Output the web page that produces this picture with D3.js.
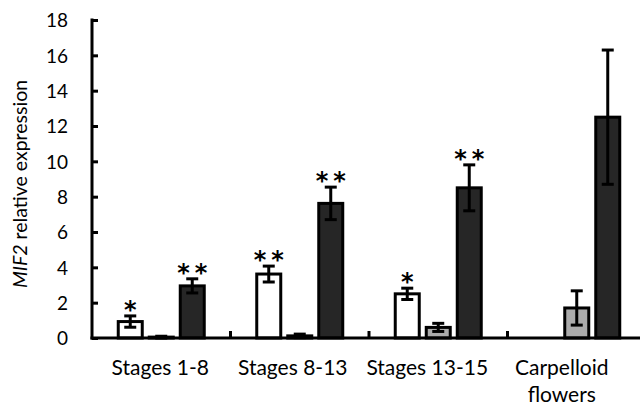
<!DOCTYPE html>
<html>
<head>
<meta charset="utf-8">
<script src="https://cdn.jsdelivr.net/npm/d3@7"></script>
<style>
  html, body { margin: 0; padding: 0; background: #fff; }
  svg { display: block; font-family: Carlito, Calibri, "Lato", sans-serif; }
</style>
</head>
<body>
<svg id="chart" width="640" height="410"></svg>
<script>
const categories = ["Stages 1-8", "Stages 8-13", "Stages 13-15", "Carpelloid flowers"];
const series = ["s1", "s2", "s3"];
const seriesColors = ["#ffffff", "#ababab", "#262626"];
const valuesS1 = [0.93, 3.62, 2.5, null];
const errorsS1 = [0.32, 0.45, 0.32, null];
const valuesS2 = [0.05, 0.12, 0.6, 1.7];
const errorsS2 = [0.05, 0.1, 0.23, 0.97];
const valuesS3 = [2.95, 7.62, 8.5, 12.5];
const errorsS3 = [0.4, 0.92, 1.3, 3.8];
const starsS1 = ["*", "**", "*", ""];
const starsS2 = ["", "", "", ""];
const starsS3 = ["**", "**", "**", ""];
const yTicks = [0, 2, 4, 6, 8, 10, 12, 14, 16, 18];

const allValues = [valuesS1, valuesS2, valuesS3];
const allErrors = [errorsS1, errorsS2, errorsS3];
const allStars = [starsS1, starsS2, starsS3];

const svg = d3.select("#chart");
const mLeft = 92, mTop = 20, mBottom = 338, catW = 138.5;

const y = d3.scaleLinear().domain([0, 18]).range([mBottom, mTop]);
const x = d3.scaleBand().domain(categories).range([mLeft, mLeft + catW * categories.length]).padding(0);
const xs = d3.scaleBand().domain(series).range([-46.5, 46.5]).padding(0);

const data = [];
categories.forEach((c, i) => {
  series.forEach((s, j) => {
    const v = allValues[j][i];
    if (v == null) return;
    data.push({ c, s, j, v, e: allErrors[j][i], star: allStars[j][i] });
  });
});

const barW = 24;
const cx = d => x(d.c) + x.bandwidth() / 2 + xs(d.s) + xs.bandwidth() / 2;

// bars
svg.append("g").selectAll("rect").data(data).join("rect")
  .attr("x", d => cx(d) - barW / 2)
  .attr("y", d => y(d.v))
  .attr("width", barW)
  .attr("height", d => y(0) - y(d.v))
  .attr("fill", d => seriesColors[d.j])
  .attr("stroke", "#000")
  .attr("stroke-width", 3);

// error bars
const eb = svg.append("g").attr("stroke", "#000").attr("stroke-width", 3);
data.forEach(d => {
  const c = cx(d);
  eb.append("line").attr("x1", c).attr("x2", c).attr("y1", y(d.v - d.e)).attr("y2", y(d.v + d.e));
  eb.append("line").attr("x1", c - 6).attr("x2", c + 6).attr("y1", y(d.v + d.e)).attr("y2", y(d.v + d.e));
  eb.append("line").attr("x1", c - 6).attr("x2", c + 6).attr("y1", y(d.v - d.e)).attr("y2", y(d.v - d.e));
});

// significance stars
const starLS = 5;
svg.append("g").selectAll("text").data(data.filter(d => d.star)).join("text")
  .attr("x", d => cx(d))
  .attr("dx", d => d.star.length > 1 ? starLS / 2 : 0)
  .attr("y", d => y(d.v + d.e) + 2)
  .attr("text-anchor", "middle")
  .attr("font-size", 24)
  .attr("font-weight", "bold")
  .attr("letter-spacing", d => d.star.length > 1 ? starLS : 0)
  .attr("font-family", "'DejaVu Sans', sans-serif")
  .text(d => d.star);

// y axis
const yAxis = d3.axisRight(y).tickValues(yTicks).tickSize(6).tickFormat(d3.format("d"));
const gy = svg.append("g").attr("transform", `translate(${mLeft},0)`).call(yAxis);
gy.select(".domain").remove();
gy.selectAll(".tick line").attr("stroke", "#000").attr("stroke-width", 3);
gy.selectAll(".tick text").attr("x", -24).attr("text-anchor", "end").attr("dy", "0.36em")
  .attr("font-size", 19).attr("fill", "#000").attr("font-family", "Lato, sans-serif");
svg.append("line").attr("x1", mLeft).attr("x2", mLeft).attr("y1", y(18) - 1.5).attr("y2", y(0) + 1.5)
  .attr("stroke", "#000").attr("stroke-width", 3);

// x axis
svg.append("line").attr("x1", mLeft - 1.5).attr("x2", 640).attr("y1", y(0)).attr("y2", y(0))
  .attr("stroke", "#000").attr("stroke-width", 3);
svg.append("g").selectAll("line").data(categories.slice(1)).join("line")
  .attr("x1", d => x(d)).attr("x2", d => x(d))
  .attr("y1", y(0)).attr("y2", y(0) - 7)
  .attr("stroke", "#000").attr("stroke-width", 3);

// x labels
const labelShift = [-1, -7, -11, -15];
const xl = svg.append("g").selectAll("text").data(categories).join("text")
  .attr("text-anchor", "middle")
  .attr("font-size", 21)
  .attr("font-family", "Lato, sans-serif")
  .attr("fill", "#000");
xl.each(function (d, i) {
  const words = d.startsWith("Carpelloid") ? ["Carpelloid", "flowers"] : [d];
  const t = d3.select(this);
  words.forEach((w, k) => {
    t.append("tspan").attr("x", x(d) + x.bandwidth() / 2 + labelShift[i]).attr("y", 375 + k * 27).text(w);
  });
});

// y label
const yl = svg.append("text")
  .attr("transform", `translate(27, ${(y(0) + y(18)) / 2 + 5}) rotate(-90)`)
  .attr("text-anchor", "middle")
  .attr("font-size", 19.5)
  .attr("font-family", "Lato, sans-serif")
  .attr("fill", "#000");
yl.append("tspan").attr("font-style", "italic").text("MIF2");
yl.append("tspan").text(" relative expression");
</script>
</body>
</html>
